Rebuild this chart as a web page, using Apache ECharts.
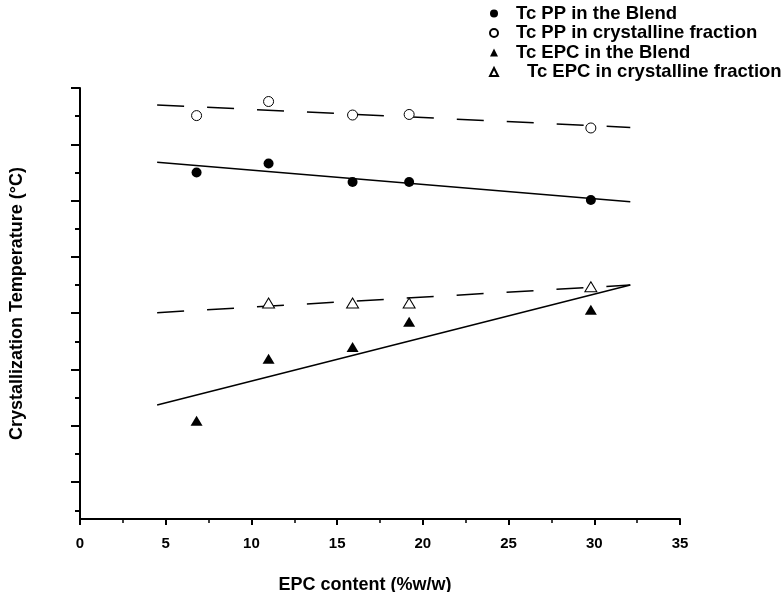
<!DOCTYPE html>
<html>
<head>
<meta charset="utf-8">
<script src="https://cdn.jsdelivr.net/npm/echarts@6/dist/echarts.min.js"></script>
<style>html,body{margin:0;padding:0;background:#fff}#c{width:783px;height:592px}</style>
</head>
<body>
<div id="c"></div>
<script>
// EPC content (%w/w)
var epcContent = [6.8, 11.0, 15.9, 19.2, 29.8];
var epcContentCryst = [11.0, 15.9, 19.2, 29.8];
// Crystallization temperature (arbitrary read-off scale, axis is unlabeled)
var tcPPBlend = [115.0, 116.6, 113.3, 113.3, 110.1];
var tcPPCryst = [125.1, 127.6, 125.2, 125.3, 122.9];
var tcEPCBlend = [70.9, 81.9, 84.0, 88.5, 90.6];
var tcEPCCryst = [91.8, 91.8, 91.8, 94.7];
// trend lines (endpoints)
var fitX = [4.5, 32.1];
var fitPPBlend = [116.8, 109.8];
var fitPPCryst = [127.0, 123.0];
var fitEPCBlend = [73.7, 95.0];
var fitEPCCryst = [90.1, 95.0];
// axis ticks
var xTicks = [0, 5, 10, 15, 20, 25, 30, 35];
var yMajorTicks = [60, 70, 80, 90, 100, 110, 120, 130];
var yMinorTicks = [55, 65, 75, 85, 95, 105, 115, 125];
var seriesNames = ['Tc PP in the Blend', 'Tc PP in crystalline fraction', 'Tc EPC in the Blend', 'Tc EPC in crystalline fraction'];

function pairs(xs, ys) { return xs.map(function (x, i) { return [x, ys[i]]; }); }

var FONT = 'Liberation Sans';
var chart = echarts.init(document.getElementById('c'), null, { renderer: 'canvas' });
var lineStyleSolid = { color: '#000', width: 1.5, type: 'solid' };
var lineStyleDash = { color: '#000', width: 1.5, type: [27, 23] };

function fitSeries(ys, ls) {
  return {
    type: 'line', data: pairs(fitX, ys), showSymbol: false, symbol: 'none',
    lineStyle: ls, silent: true, z: 1, animation: false
  };
}

var legendData = seriesNames.map(function (n, i) {
  return i === 3 ? { name: n, textStyle: { padding: [0, 0, 0, 24] } } : { name: n };
});

chart.setOption({
  animation: false,
  backgroundColor: '#fff',
  textStyle: { fontFamily: FONT, color: '#000' },
  grid: { left: 80, right: 103, top: 88, bottom: 73, containLabel: false, outerBoundsMode: 'none' },
  legend: {
    orient: 'vertical', left: 489, top: 4, padding: 0, itemWidth: 8, itemHeight: 8, itemGap: 0.5,
    data: legendData,
    textStyle: { fontFamily: FONT, fontWeight: 'bold', fontSize: 18.5, color: '#000', lineHeight: 18, padding: [0, 0, 0, 13] }
  },
  xAxis: {
    type: 'value', min: 0, max: 35, interval: 5,
    name: 'EPC content (%w/w)', nameLocation: 'middle', nameGap: 57,
    nameTextStyle: { fontFamily: FONT, fontWeight: 'bold', fontSize: 18, color: '#000', padding: [0, 30, 0, 0] },
    axisLine: { show: true, onZero: false, lineStyle: { color: '#000', width: 2 } },
    axisTick: { show: true, length: 6, lineStyle: { color: '#000', width: 2 } },
    minorTick: { show: true, splitNumber: 2, length: 4, lineStyle: { color: '#000', width: 1.5 } },
    axisLabel: { fontFamily: FONT, fontWeight: 'bold', fontSize: 15, color: '#000', margin: 17,
      customValues: xTicks },
    splitLine: { show: false }
  },
  yAxis: [{
    type: 'value', min: 53.45, max: 130,
    name: 'Crystallization Temperature (°C)', nameLocation: 'middle', nameGap: 54, nameRotate: 90,
    nameTextStyle: { fontFamily: FONT, fontWeight: 'bold', fontSize: 18, color: '#000' },
    axisLine: { show: true, onZero: false, lineStyle: { color: '#000', width: 2 } },
    axisTick: { show: true, length: 9, customValues: yMajorTicks, lineStyle: { color: '#000', width: 2 } },
    axisLabel: { show: false },
    splitLine: { show: false }
  }, {
    type: 'value', min: 53.45, max: 130, position: 'left', offset: 0,
    axisLine: { show: false },
    axisTick: { show: true, length: 5, customValues: yMinorTicks, lineStyle: { color: '#000', width: 2 } },
    axisLabel: { show: false },
    splitLine: { show: false }
  }],
  series: [
    fitSeries(fitPPBlend, lineStyleSolid),
    fitSeries(fitPPCryst, lineStyleDash),
    fitSeries(fitEPCBlend, lineStyleSolid),
    fitSeries(fitEPCCryst, lineStyleDash),
    { name: seriesNames[0], type: 'scatter', data: pairs(epcContent, tcPPBlend), symbol: 'circle', symbolSize: 10,
      itemStyle: { color: '#000', opacity: 1 }, z: 3 },
    { name: seriesNames[1], type: 'scatter', data: pairs(epcContent, tcPPCryst), symbol: 'circle', symbolSize: 10,
      itemStyle: { color: '#fff', borderColor: '#000', borderWidth: 1, opacity: 1 }, z: 3 },
    { name: seriesNames[2], type: 'scatter', data: pairs(epcContent, tcEPCBlend), symbol: 'triangle', symbolSize: [12, 10],
      itemStyle: { color: '#000', opacity: 1 }, z: 3 },
    { name: seriesNames[3], type: 'scatter', data: pairs(epcContentCryst, tcEPCCryst), symbol: 'triangle', symbolSize: [12, 10],
      itemStyle: { color: '#fff', borderColor: '#000', borderWidth: 1, opacity: 1 }, z: 3 }
  ]
});
</script>
</body>
</html>
